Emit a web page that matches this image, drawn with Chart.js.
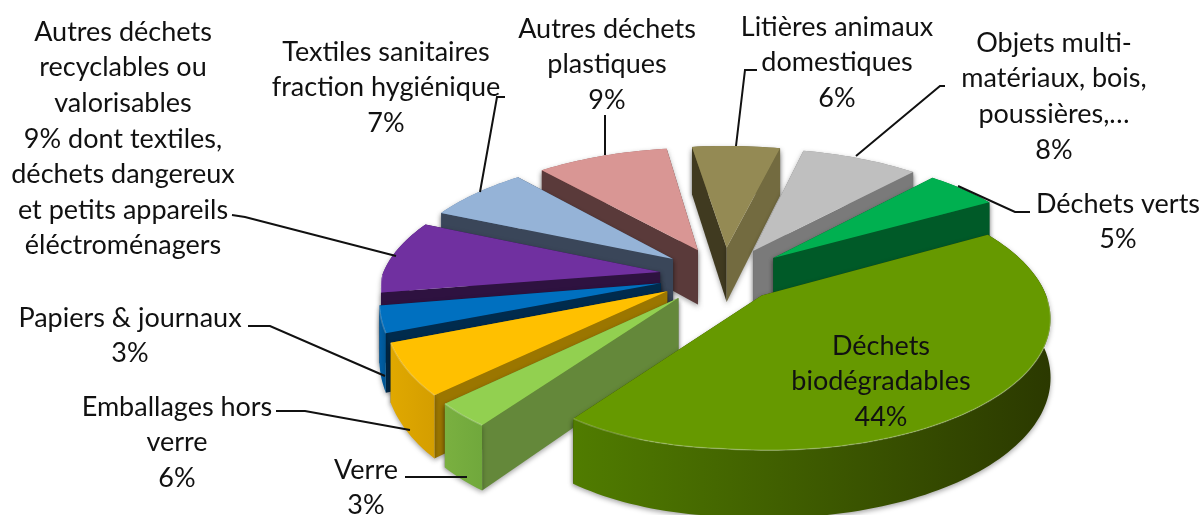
<!DOCTYPE html>
<html lang="fr">
<head>
<meta charset="utf-8">
<title>Déchets</title>
<script src="https://cdn.jsdelivr.net/npm/chart.js@4/dist/chart.umd.min.js"></script>
<style>
html, body { margin: 0; padding: 0; background: #fff; }
#wrap { width: 1201px; height: 515px; }
</style>
</head>
<body>
<div id="wrap"><canvas id="pie"></canvas></div>
<script>
// Data, clockwise from the big slice
const categories = ['Déchets biodégradables', 'Verre', 'Emballages hors verre', 'Papiers & journaux',
    'Autres déchets recyclables ou valorisables', 'Textiles sanitaires fraction hygiénique',
    'Autres déchets plastiques', 'Litières animaux domestiques',
    'Objets multi-matériaux, bois, poussières,…', 'Déchets verts'];
const shares = [44, 3, 6, 3, 9, 7, 9, 6, 8, 5];

// Colours per slice
const topColors = ['#669900', '#92d050', '#ffc000', '#0070c0', '#7030a0', '#95b3d7', '#d99694', '#948a54', '#bfbfbf', '#00b050'];
const startWall = ['#2e3b00', '#64883a', '#9b7600', '#002b4d', '#2e1240', '#3a4659', '#5a3a3a', '#403a20', '#7a7a7a', '#005a28'];
const endWall = ['#2e3b00', '#64883a', '#9b7600', '#002b4d', '#2e1240', '#3a4659', '#5a3a3a', '#736b40', '#7a7a7a', '#005a28'];
const arcWallLeft = ['#507c00', '#7ab040', '#e0a800', '#0060a8', '#5a2680', '#6080a8', '#a06060', '#706a40', '#909090', '#008a40'];
const arcWallRight = ['#2b3900', '#70a83c', '#d49e00', '#005490', '#4a2070', '#6080a8', '#a06060', '#706a40', '#909090', '#005a28'];
const explode = [132, 152, 152, 152, 152, 152, 152, 152, 152, 152];

// Label text, one list of lines per label
const labelLines = [
    ['Déchets', 'biodégradables', '44%'],
    ['Verre', '3%'],
    ['Emballages hors', 'verre', '6%'],
    ['Papiers & journaux', '3%'],
    ['Autres déchets', 'recyclables ou', 'valorisables', '9% dont textiles,', 'déchets dangereux', 'et petits appareils', 'éléctroménagers'],
    ['Textiles sanitaires', 'fraction hygiénique', '7%'],
    ['Autres déchets', 'plastiques', '9%'],
    ['Litières animaux', 'domestiques', '6%'],
    ['Objets multi-', 'matériaux, bois,', 'poussières,…', '8%'],
    ['Déchets verts', '5%']
];
// [centre x, y of first line] for each label
const labelAt = [[881, 346], [366, 470], [177, 407], [130, 318], [123, 32], [386, 52], [607, 29], [837, 27], [1054, 43], [1118, 204]];
// leader lines
const leaders = [
    null,
    [[405, 477], [467, 477]],
    [[276, 411], [305, 411], [410, 430]],
    [[248, 326], [270, 326], [385, 376]],
    [[232, 215], [245, 217], [396, 256]],
    [[505, 97], [497, 97], [480, 192]],
    [[605, 115], [605, 155]],
    [[757, 70], [745, 70], [736, 146]],
    [[945, 86], [940, 86], [856, 156]],
    [[1030, 212], [1015, 212], [958, 186]]
];

// Projection of the pie plane onto the screen
const RX = 278, RY = 125, PERSP = 0.15, DEPTH = 56;
// front left part leans a little, as in the Excel perspective
const LEAN_X = 16, LEAN_Y = 14;

function project(el, u, v, z) {
    const s = 1 / (1 - PERSP * v);
    const front = Math.min(u, 0) * Math.max(v, 0);
    return {
        x: el.x + RX * u * s - LEAN_X * front,
        y: el.y + RY * v * s + z * DEPTH * s - LEAN_Y * front
    };
}

function poly(ctx, pts) {
    ctx.beginPath();
    pts.forEach((p, i) => i ? ctx.lineTo(p.x, p.y) : ctx.moveTo(p.x, p.y));
    ctx.closePath();
    ctx.fill();
}

function drawSlice(ctx, el, i) {
    const mid = (el.startAngle + el.endAngle) / 2;
    const ex = (el.options.offset / 4) / el.outerRadius;
    const tu = ex * Math.cos(mid), tv = ex * Math.sin(mid);
    const steps = Math.max(6, Math.round((el.endAngle - el.startAngle) * 40));
    const rim = [];
    for (let k = 0; k <= steps; k++) {
        const a = el.startAngle + (el.endAngle - el.startAngle) * k / steps;
        rim.push([tu + Math.cos(a), tv + Math.sin(a), Math.sin(a)]);
    }
    const topRim = rim.map(p => project(el, p[0], p[1], 0));
    const lowRim = rim.map(p => project(el, p[0], p[1], 1));
    const tipTop = project(el, tu, tv, 0), tipLow = project(el, tu, tv, 1);

    const minX = Math.min(...topRim.map(p => p.x)), maxX = Math.max(...topRim.map(p => p.x));
    const grad = ctx.createLinearGradient(minX, 0, maxX, 0);
    grad.addColorStop(0, arcWallLeft[i]);
    grad.addColorStop(1, arcWallRight[i]);

    const walls = [
        { pts: [tipTop, topRim[0], lowRim[0], tipLow], fill: startWall[i] },
        { pts: [tipTop, topRim[steps], lowRim[steps], tipLow], fill: endWall[i] },
        { pts: topRim.concat(lowRim.slice().reverse()), fill: grad }
    ];
    const meanY = w => w.pts.reduce((t, p) => t + p.y, 0) / w.pts.length;
    walls.sort((a, b) => meanY(a) - meanY(b));

    ctx.save();
    ctx.shadowColor = 'rgba(0,0,0,0.35)';
    ctx.shadowBlur = 5;
    ctx.shadowOffsetY = 2;
    walls.forEach(w => { ctx.fillStyle = w.fill; poly(ctx, w.pts); });
    ctx.restore();

    ctx.fillStyle = el.options.backgroundColor;
    poly(ctx, [tipTop].concat(topRim));

    // light bevel on the front edge
    ctx.save();
    ctx.strokeStyle = 'rgba(255,255,255,0.22)';
    ctx.lineWidth = 1.5;
    ctx.beginPath();
    let open = false;
    rim.forEach((p, k) => {
        if (p[2] <= 0) return;
        if (open) ctx.lineTo(topRim[k].x, topRim[k].y);
        else ctx.moveTo(topRim[k].x, topRim[k].y);
        open = true;
    });
    ctx.stroke();
    ctx.restore();
}

const pie3d = {
    id: 'pie3d',
    // the library computed the arcs, they are painted here in projection
    beforeDatasetDraw(chart, args) {
        const arcs = chart.getDatasetMeta(args.index).data;
        const ctx = chart.ctx;
        const order = arcs.map((el, i) => i).sort((a, b) => {
            const f = el => Math.sin((el.startAngle + el.endAngle) / 2);
            return f(arcs[a]) - f(arcs[b]);
        });
        order.forEach(i => drawSlice(ctx, arcs[i], i));
        return false;
    },
    afterDatasetsDraw(chart) {
        const ctx = chart.ctx;
        ctx.save();
        ctx.strokeStyle = '#111';
        ctx.lineWidth = 2;
        leaders.forEach(line => {
            if (!line) return;
            ctx.beginPath();
            line.forEach((p, i) => i ? ctx.lineTo(p[0], p[1]) : ctx.moveTo(p[0], p[1]));
            ctx.stroke();
        });
        ctx.fillStyle = '#111';
        ctx.font = '27px Lato';
        ctx.textAlign = 'center';
        ctx.textBaseline = 'middle';
        labelLines.forEach((lines, i) => {
            lines.forEach((t, k) => ctx.fillText(t, labelAt[i][0], labelAt[i][1] + k * 35.6));
        });
        ctx.restore();
    }
};

new Chart(document.getElementById('pie'), {
    type: 'pie',
    data: {
        labels: categories,
        datasets: [{
            data: shares,
            backgroundColor: topColors,
            borderWidth: 0,
            offset: explode,
            hoverOffset: 152
        }]
    },
    options: {
        responsive: true,
        maintainAspectRatio: false,
        animation: false,
        rotation: 60,
        layout: { padding: { left: 247, top: 37 } },
        plugins: { legend: { display: false }, tooltip: { enabled: false } }
    },
    plugins: [pie3d]
});
</script>
</body>
</html>
